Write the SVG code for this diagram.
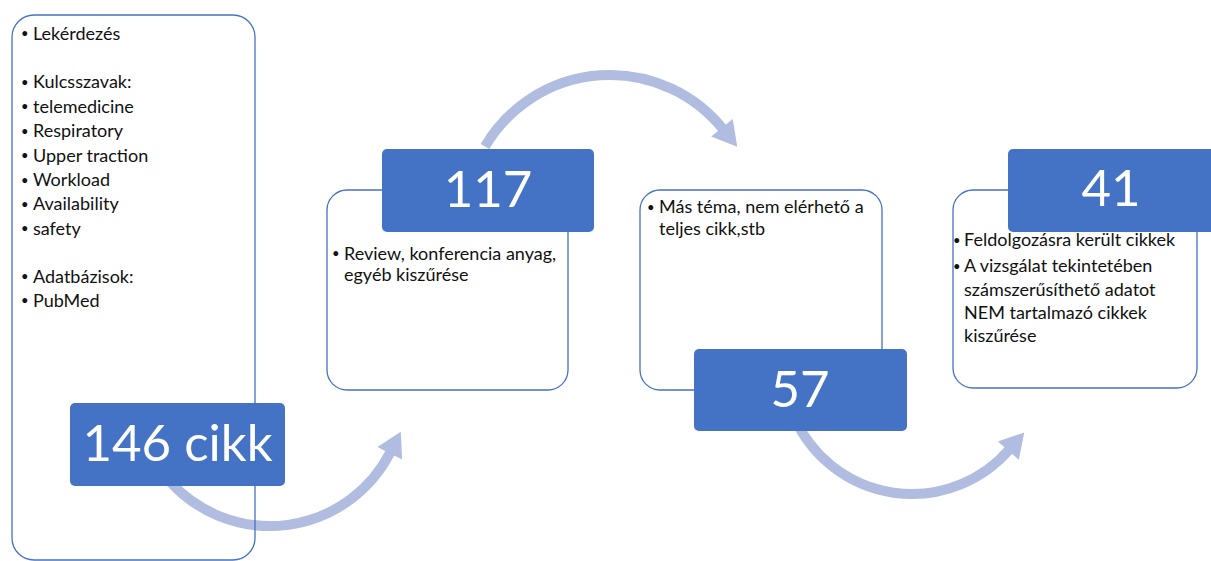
<svg xmlns="http://www.w3.org/2000/svg" width="1211" height="561" viewBox="0 0 1211 561">
<style>
.panel{fill:none;stroke:#4472C4;stroke-width:1.3}
.head{fill:#4472C4}
.num{font-family:Lato,"Open Sans","Liberation Sans",sans-serif;font-size:51px;fill:#fff;text-anchor:middle}
.txt{font-family:Lato,"Open Sans","Liberation Sans",sans-serif;font-size:18px;fill:#111}
.b{font-size:13px}
.arc{fill:none;stroke:#B0BCE0;stroke-width:10;marker-end:url(#ah)}
</style>
<defs>
<marker id="ah" markerUnits="userSpaceOnUse" markerWidth="30" markerHeight="30" viewBox="0 -13 22 26" refX="1" refY="0" orient="auto">
<path d="M0,-12 L21,0 L0,12 Z" fill="#B0BCE0"/>
</marker>
</defs>
<rect width="1211" height="561" fill="#fff"/>
<g id="connectors">
<path class="arc" d="M170,481.7 A135,135 0 0 0 390.3,452.3"/>
<path class="arc" d="M485,146.5 A145,145 0 0 1 722.7,128.7"/>
<path class="arc" d="M795,418.8 A128.6,128.6 0 0 0 1009.1,449.8"/>
</g>
<g id="node-146">
<rect class="panel" x="12" y="15" width="243" height="545" rx="22"/>
<text class="txt">
<tspan class="b" x="21" y="38">•</tspan><tspan x="33" y="39.5">Lekérdezés</tspan>
<tspan class="b" x="21" y="86.8">•</tspan><tspan x="33" y="88.3">Kulcsszavak:</tspan>
<tspan class="b" x="21" y="111.2">•</tspan><tspan x="33" y="112.7">telemedicine</tspan>
<tspan class="b" x="21" y="135.5">•</tspan><tspan x="33" y="137">Respiratory</tspan>
<tspan class="b" x="21" y="160">•</tspan><tspan x="33" y="161.5">Upper traction</tspan>
<tspan class="b" x="21" y="184.5">•</tspan><tspan x="33" y="186">Workload</tspan>
<tspan class="b" x="21" y="208.8">•</tspan><tspan x="33" y="210.3">Availability</tspan>
<tspan class="b" x="21" y="233">•</tspan><tspan x="33" y="234.5">safety</tspan>
<tspan class="b" x="21" y="281">•</tspan><tspan x="33" y="282.5">Adatbázisok:</tspan>
<tspan class="b" x="21" y="305">•</tspan><tspan x="33" y="306.5">PubMed</tspan>
</text>
<rect class="head" x="70" y="403" width="215" height="83" rx="5"/>
<text class="num" x="177.5" y="461">146 cikk</text>
</g>
<g id="node-117">
<rect class="panel" x="327" y="190" width="241" height="200" rx="20"/>
<rect class="head" x="382" y="149" width="212" height="83" rx="5"/>
<text class="num" x="488" y="207">117</text>
<text class="txt">
<tspan class="b" x="332" y="258">•</tspan><tspan x="344" y="259.5">Review, konferencia anyag,</tspan>
<tspan x="344" y="281">egyéb kiszűrése</tspan>
</text>
</g>
<g id="node-57">
<rect class="panel" x="640" y="190" width="242" height="200" rx="20"/>
<text class="txt">
<tspan class="b" x="647" y="211.5">•</tspan><tspan x="659" y="213">Más téma, nem elérhető a</tspan>
<tspan x="659" y="234.5">teljes cikk,stb</tspan>
</text>
<rect class="head" x="694" y="349" width="213" height="82" rx="5"/>
<text class="num" x="800" y="407">57</text>
</g>
<g id="node-41">
<rect class="panel" x="953" y="190" width="244" height="198" rx="20"/>
<rect class="head" x="1008" y="149" width="214" height="83" rx="5"/>
<text class="num" x="1111" y="206">41</text>
<text class="txt">
<tspan class="b" x="953" y="244.5">•</tspan><tspan x="964" y="246">Feldolgozásra került cikkek</tspan>
<tspan class="b" x="953" y="270.5">•</tspan><tspan x="964" y="272">A vizsgálat tekintetében</tspan>
<tspan x="964" y="295.5">számszerűsíthető adatot</tspan>
<tspan x="964" y="318.5">NEM tartalmazó cikkek</tspan>
<tspan x="964" y="342">kiszűrése</tspan>
</text>
</g>
</svg>
